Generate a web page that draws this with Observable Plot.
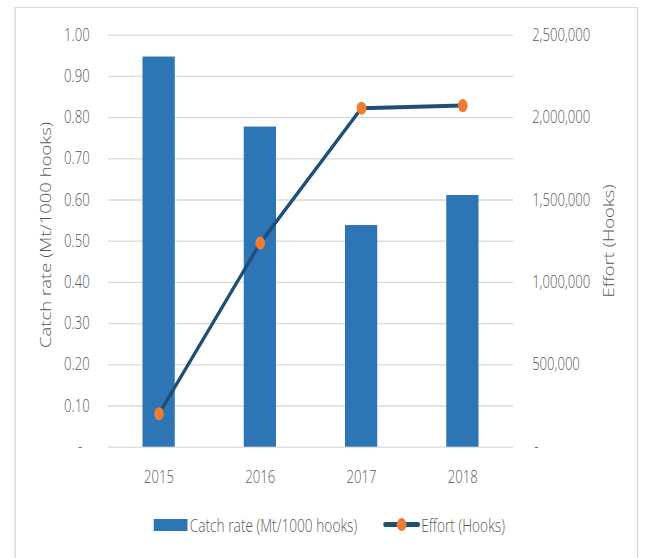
<!DOCTYPE html>
<html>
<head>
<meta charset="utf-8">
<script src="https://cdn.jsdelivr.net/npm/d3@7"></script>
<script src="https://cdn.jsdelivr.net/npm/@observablehq/plot@0.6"></script>
<style>
  html, body { margin: 0; padding: 0; background: #fff; overflow: hidden; }
  /* The chart is laid out on a wider canvas and narrowed horizontally. */
  #stage {
    position: relative; width: 860px; height: 558px;
    transform: scaleX(0.75); transform-origin: 0 0;
    font-family: "Open Sans", sans-serif; font-weight: 300; color: #595959;
  }
  #frame {
    position: absolute; left: 19px; top: 7px; width: 832px; height: 570px;
    border: 1.5px solid #d9d9d9; border-left-width: 2px; border-right-width: 2px;
    box-sizing: border-box;
  }
  #chart { position: absolute; left: 0; top: 0; }
  #chart svg text { font-weight: 300; }
  .title {
    position: absolute; white-space: nowrap; font-size: 18.5px; line-height: 1;
    transform: translate(-50%, -50%) rotate(-90deg);
  }
  .legend-text { position: absolute; font-size: 18.3px; line-height: 24px; white-space: nowrap; }
  .swatch-bar { position: absolute; background: #2e75b6; }
  .swatch-line { position: absolute; background: #1f4e79; border-radius: 3px; }
  .swatch-dot { position: absolute; background: #ed7d31; border-radius: 50%; }
</style>
</head>
<body>
<div id="stage">
  <div id="frame"></div>
  <div id="chart"></div>
  <div class="title" style="left:61px; top:235px;">Catch rate (Mt/1000 hooks)</div>
  <div class="title" style="left:812px; top:241px;">Effort (Hooks)</div>
  <div class="swatch-bar" style="left:205px; top:519px; width:45px; height:12px;"></div>
  <div class="legend-text" style="left:253px; top:512.5px;">Catch rate (Mt/1000 hooks)</div>
  <div class="swatch-line" style="left:511px; top:521.8px; width:49px; height:5px;"></div>
  <div class="swatch-dot" style="left:528.5px; top:517.8px; width:13px; height:13px;"></div>
  <div class="legend-text" style="left:561.5px; top:512.5px;">Effort (Hooks)</div>
</div>
<script>
// Annual catch rate (bars, left axis) and fishing effort (line, right axis)
const years = ["2015", "2016", "2017", "2018"];
const catchRate = [0.947, 0.777, 0.538, 0.611];          // Mt per 1000 hooks
const effortHooks = [203000, 1239000, 2057000, 2073000]; // hooks

const rateTicks = [0, 0.1, 0.2, 0.3, 0.4, 0.5, 0.6, 0.7, 0.8, 0.9, 1.0];
const effortTicks = [0, 500000, 1000000, 1500000, 2000000, 2500000];

const rateMax = 1.0;
const effortMax = 2500000;

// Effort shares the plot's y scale, expressed as a fraction of its axis maximum
const toRateUnits = (v) => (v / effortMax) * rateMax;

const rows = years.map((year, i) => ({
  year,
  rate: catchRate[i],
  effort: effortHooks[i]
}));

const fmtComma = d3.format(",");

const chart = Plot.plot({
  width: 860,
  height: 500,
  marginTop: 34.7,
  marginBottom: 53.3,
  marginLeft: 144,
  marginRight: 176,
  style: {
    fontFamily: "'Open Sans', sans-serif",
    fontSize: "17.5px",
    color: "#595959",
    background: "transparent",
    overflow: "visible"
  },
  x: { domain: years, paddingInner: 0.685, paddingOuter: 0.3425, axis: null },
  y: { domain: [0, rateMax], axis: null },
  marks: [
    Plot.gridY(rateTicks, { stroke: "#d9d9d9", strokeOpacity: 1, strokeWidth: 1.3 }),
    Plot.barY(rows, { x: "year", y: "rate", fill: "#2e75b6" }),
    Plot.line(rows, {
      x: "year",
      y: (d) => toRateUnits(d.effort),
      stroke: "#1f4e79",
      strokeWidth: 4
    }),
    Plot.dot(rows, {
      x: "year",
      y: (d) => toRateUnits(d.effort),
      r: 6.5,
      fill: "#ed7d31"
    }),
    Plot.axisY(rateTicks, {
      anchor: "left",
      tickSize: 0,
      tickPadding: 25,
      label: null,
      tickFormat: (d) => (d === 0 ? "-\u2007" : d.toFixed(2))
    }),
    Plot.axisY(effortTicks.map(toRateUnits), {
      anchor: "right",
      tickSize: 0,
      tickPadding: 25,
      label: null,
      tickFormat: (d) => {
        const v = Math.round((d / rateMax) * effortMax);
        return v === 0 ? "\u2009-" : fmtComma(v);
      }
    }),
    Plot.axisX({ anchor: "bottom", tickSize: 0, tickPadding: 23, label: null })
  ]
});

document.getElementById("chart").appendChild(chart);
</script>
</body>
</html>
